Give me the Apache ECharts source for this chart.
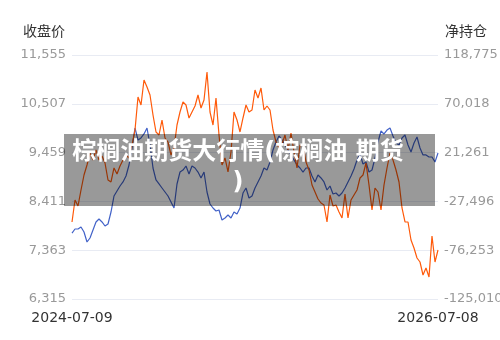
<!DOCTYPE html>
<html>
<head>
<meta charset="utf-8">
<script src="https://cdn.jsdelivr.net/npm/echarts@6/dist/echarts.min.js"></script>
<style>
  html, body { margin: 0; padding: 0; background: #fff; }
  #chart { width: 500px; height: 340px; }
</style>
</head>
<body>
<div id="chart"></div>
<script>
// 收盘价 (left axis)
const closePrice = [
  7732, 7818, 7818, 7861, 7754, 7539, 7625, 7797, 7969, 8033,
  7969, 7883, 7926, 8183, 8527, 8634, 8742, 8828, 8957, 9193,
  9558, 9987, 9730, 9773, 9859, 9987, 9622, 9128, 8871, 8785,
  8699, 8613, 8527, 8398, 8269, 8785, 9042, 9085, 9171, 8999,
  9171, 9128, 9042, 8914, 9042, 8613, 8355, 8269, 8205, 8226,
  8012, 8055, 8119, 8055, 8183, 8141, 8269, 8591, 8699, 8484,
  8527, 8699, 8828, 8957, 9128, 9085, 9257, 9515, 9687, 9816,
  9730, 9622, 9515, 9408, 9300, 9193, 9128, 9042, 9128, 9128,
  8957, 8828, 8978, 8914, 8828, 8656, 8742, 8570, 8591, 8527,
  8591, 8699, 8828, 8957, 9107, 9300, 9429, 9214, 9257, 9042,
  9085, 9343, 9687, 9923, 9859, 9944, 9987, 9816, 9665, 9622,
  9773, 9837, 9622, 9472, 9665, 9794, 9558, 9408, 9408, 9365,
  9365, 9257, 9450
]

// 净持仓 (right axis)
const netPosition = [
  -48075, -26095, -32089, -16104, -1117, 8874, 20863, 13869, 23860, 13869,
  17866, 10872, -6113, -8111, 5877, -118, 7875, 13869, 18865, 15868,
  28856, 43842, 76813, 68820, 93797, 86804, 78811, 58829, 41844, 38847,
  53833, 35850, 31853, 18865, 25859, 48838, 61826, 71817, 68820, 55832,
  61826, 67821, 78811, 65823, 73815, 101790, 61826, 48838, 75814, 38847,
  8874, 15868, 1880, 21862, 61826, 53833, 41844, 55832, 68820, 61826,
  63824, 83806, 75814, 85805, 63824, 67821, 63824, 43842, 31853, 25859,
  29855, 38847, 23860, 40845, 21862, 5877, 28856, 28856, 11871, 3878,
  -11108, -18102, -25095, -29092, -31090, -48075, -21099, -32089, -31090, -38084,
  -44078, -20100, -44078, -26095, -21099, -16104, -4114, -1117, 10872, -11108,
  -36086, -14105, -18102, -36086, -11108, 5877, 20863, 13869, 3878, -8111,
  -34087, -48075, -48075, -66059, -74051, -84042, -88039, -101027, -94033, -103025,
  -62062, -88039, -76050
]

const startDate = '2024-07-09'
const endDate = '2026-07-08'
const leftAxis = { min: 6315, max: 11555, interval: 1048 }
const rightAxis = { min: -125010, max: 118775, interval: 48757 }
const title = '棕榈油期货大行情(棕榈油 期货\n)'

// spread the sample dates over the period
function buildDates(n) {
  const t0 = Date.parse(startDate + 'T00:00:00Z')
  const t1 = Date.parse(endDate + 'T00:00:00Z')
  const out = []
  for (let i = 0; i < n; i++) {
    const d = new Date(t0 + Math.round((t1 - t0) / 86400000 * i / (n - 1)) * 86400000)
    out.push(d.toISOString().slice(0, 10))
  }
  return out
}
const dates = buildDates(closePrice.length)
const last = dates.length - 1

const chart = echarts.init(document.getElementById('chart'))
chart.setOption({
  animation: false,
  textStyle: { fontFamily: '"DejaVu Sans", "Noto Sans CJK SC", sans-serif' },
  grid: { left: 72, right: 62, top: 55, bottom: 41, outerBoundsMode: 'none' },
  xAxis: {
    type: 'category',
    data: dates,
    boundaryGap: false,
    axisLine: { show: false },
    axisTick: { show: false },
    axisLabel: {
      interval: (i) => i === 0 || i === last,
      color: '#333',
      fontSize: 14,
      margin: 12,
    },
  },
  yAxis: [
    {
      type: 'value',
      name: '收盘价',
      nameGap: 16,
      nameTextStyle: { color: '#333', fontSize: 14, align: 'right', padding: [0, 7, 0, 0] },
      min: leftAxis.min,
      max: leftAxis.max,
      interval: leftAxis.interval,
      axisLine: { show: false },
      axisTick: { show: false },
      axisLabel: {
        color: '#999',
        fontSize: 13,
        margin: 6,
        formatter: (v) => v.toLocaleString('en-US'),
      },
      splitLine: { lineStyle: { color: '#E8EBF3' } },
    },
    {
      type: 'value',
      name: '净持仓',
      nameGap: 16,
      nameTextStyle: { color: '#333', fontSize: 14, align: 'left', padding: [0, 0, 0, 7] },
      min: rightAxis.min,
      max: rightAxis.max,
      interval: rightAxis.interval,
      axisLine: { show: false },
      axisTick: { show: false },
      axisLabel: {
        color: '#999',
        fontSize: 13,
        margin: 6,
        formatter: (v) => v.toLocaleString('en-US'),
      },
      splitLine: { show: false },
    },
  ],
  series: [
    {
      name: '收盘价',
      type: 'line',
      yAxisIndex: 0,
      data: closePrice,
      showSymbol: false,
      lineStyle: { color: '#4262C8', width: 1.2 },
      itemStyle: { color: '#4262C8' },
    },
    {
      name: '净持仓',
      type: 'line',
      yAxisIndex: 1,
      data: netPosition,
      showSymbol: false,
      lineStyle: { color: '#FF5A0A', width: 1.2 },
      itemStyle: { color: '#FF5A0A' },
    },
  ],
  graphic: [
    {
      type: 'rect',
      z: 100,
      shape: { x: 64, y: 134, width: 371, height: 72 },
      style: { fill: 'rgba(0,0,0,0.4)' },
    },
    {
      type: 'text',
      z: 101,
      x: 238,
      y: 168,
      style: {
        text: title,
        fill: '#fff',
        font: 'bold 24px "DejaVu Sans", "Noto Sans CJK SC", sans-serif',
        lineHeight: 30,
        align: 'center',
        verticalAlign: 'middle',
      },
    },
  ],
})
</script>
</body>
</html>
